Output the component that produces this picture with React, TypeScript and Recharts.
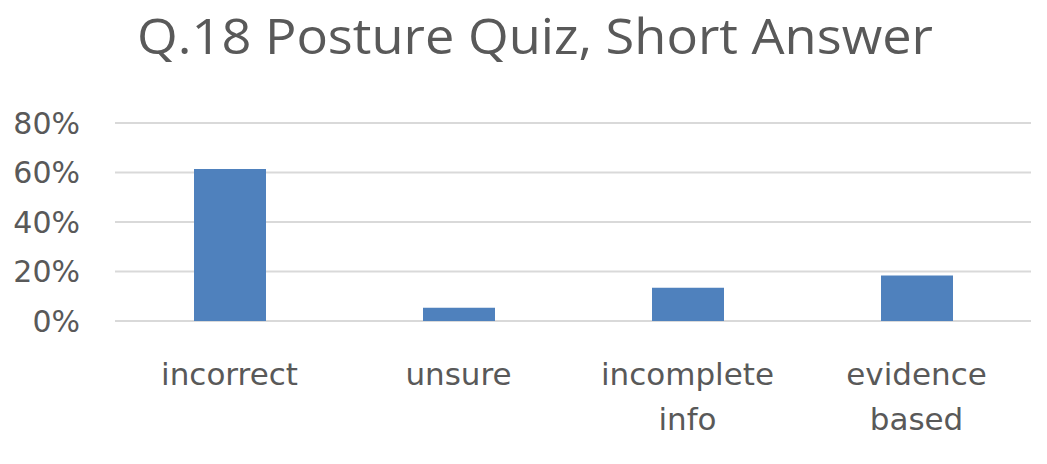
import React from "react";
import { BarChart, Bar, XAxis, YAxis, CartesianGrid } from "recharts";

const categories = ["incorrect", "unsure", "incomplete info", "evidence based"];
const shares = [0.614, 0.054, 0.134, 0.184];
const yTicks = [0, 0.2, 0.4, 0.6, 0.8];

const data = categories.map((name, i) => ({ name, value: shares[i] }));

const TEXT = "#595959";

// 标签按空格换行
const CategoryTick = (props: any) => {
  const { x, y, payload } = props;
  const lines = String(payload.value).split(" ");
  return (
    <text
      x={x}
      y={y}
      textAnchor="middle"
      fill={TEXT}
      fontSize={31}
      fontFamily="DejaVu Sans"
    >
      {lines.map((line, i) => (
        <tspan key={i} x={x} dy={i === 0 ? 64 : 45}>
          {line}
        </tspan>
      ))}
    </text>
  );
};

const App = () => {
  return (
    <div
      style={{
        position: "absolute",
        left: 0,
        top: 0,
        width: 1047,
        height: 464,
        background: "#fff",
      }}
    >
      <div style={{ position: "absolute", left: 0, top: 0 }}>
        <BarChart
          width={1047}
          height={464}
          data={data}
          margin={{ top: 123, right: 16, left: 0, bottom: 0 }}
        >
          <CartesianGrid
            vertical={false}
            stroke="#D9D9D9"
            strokeWidth={2}
          />
          <XAxis
            dataKey="name"
            axisLine={false}
            tickLine={false}
            tickSize={0}
            tickMargin={0}
            height={143}
            interval={0}
            tick={<CategoryTick />}
          />
          <YAxis
            width={115}
            domain={[0, 0.8]}
            ticks={yTicks}
            axisLine={false}
            tickLine={false}
            tickSize={0}
            tickMargin={35}
            tickFormatter={(v: number) => `${Math.round(v * 100)}%`}
            tick={{ fill: TEXT, fontSize: 30, fontFamily: "DejaVu Sans" }}
          />
          <Bar
            dataKey="value"
            fill="#4F81BD"
            barSize={72}
            isAnimationActive={false}
          />
        </BarChart>
      </div>

      {/* 标题 */}
      <svg
        width={1047}
        height={464}
        style={{ position: "absolute", left: 0, top: 0, pointerEvents: "none" }}
      >
        <text
          x={535}
          y={54}
          textAnchor="middle"
          fill={TEXT}
          fontSize={50}
          fontFamily="Open Sans"
          textLength={796}
          lengthAdjust="spacingAndGlyphs"
        >
          Q.18 Posture Quiz, Short Answer
        </text>
      </svg>
    </div>
  );
};

export default App;
